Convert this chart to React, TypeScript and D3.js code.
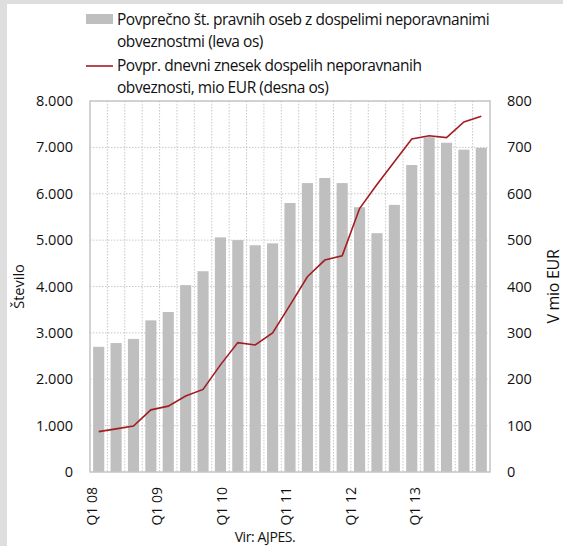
import React from "react";
import * as d3 from "d3";

const quarters = [
  "Q1 08","Q2 08","Q3 08","Q4 08",
  "Q1 09","Q2 09","Q3 09","Q4 09",
  "Q1 10","Q2 10","Q3 10","Q4 10",
  "Q1 11","Q2 11","Q3 11","Q4 11",
  "Q1 12","Q2 12","Q3 12","Q4 12",
  "Q1 13","Q2 13","Q3 13",
];
const legalEntities = [
  2700, 2780, 2870, 3270,
  3450, 4030, 4330, 5060,
  5000, 4890, 4930, 5800,
  6230, 6340, 6230, 5710,
  5150, 5760, 6620, 7220,
  7100, 6950, 6990,
];
const dailyAmount = [
  87, 93, 99, 134,
  142, 164, 178, 231,
  279, 274, 300, 360,
  421, 457, 466, 568,
  620, 669, 718, 725,
  721, 755, 767,
];
const xLabels = ["Q1 08", "Q1 09", "Q1 10", "Q1 11", "Q1 12", "Q1 13"];
const leftTicks = [0, 1000, 2000, 3000, 4000, 5000, 6000, 7000, 8000];
const rightTicks = [0, 100, 200, 300, 400, 500, 600, 700, 800];
const legend1 = ["Povprečno št. pravnih oseb z dospelimi neporavnanimi", "obveznostmi (leva os)"];
const legend2 = ["Povpr. dnevni znesek dospelih neporavnanih", "obveznosti, mio EUR (desna os)"];

const W = 563, H = 546;
const L = 90, R = 490, T = 101, B = 472;
const FONT = "'Open Sans', sans-serif";
const BAR = "#bfbfbf";
const RED = "#a31d22";

export default function App() {
  const x = d3.scaleBand<string>().domain(quarters).range([L, R]).paddingInner(0.36).paddingOuter(0.18);
  const yL = d3.scaleLinear().domain([0, 8000]).range([B, T]);
  const yR = d3.scaleLinear().domain([0, 800]).range([B, T]);
  const labelX = d3.scaleLinear().domain([0, 20]).range([92.5, 415.5]);
  const fmt = (v: number) => d3.format(",")(v).replace(/,/g, ".");
  const step = (R - L) / quarters.length;
  const boundaries = d3.range(1, quarters.length).map((i) => L + i * step);

  const line = d3
    .line<number>()
    .x((_, i) => (x(quarters[i]) as number) + x.bandwidth() / 2)
    .y((d) => yR(d));

  return (
    <svg width={W} height={H} style={{ position: "absolute", left: 0, top: 0, background: "#fff" }} fontFamily={FONT}>
      <rect x={0} y={0} width={W} height={H} fill="#fff" />
      <rect x={0} y={0} width={W} height={4} fill="#dedede" />
      <rect x={0} y={0} width={7} height={H} fill="#dedede" />

      {/* gridlines */}
      {leftTicks.slice(1, -1).map((t) => (
        <line key={"h" + t} x1={L} x2={R} y1={yL(t)} y2={yL(t)} stroke="#c8c8c8" strokeDasharray="1.5,1.5" strokeWidth={1} />
      ))}
      {boundaries.map((b, i) => (
        <line key={"v" + i} x1={b} x2={b} y1={T} y2={B} stroke="#c8c8c8" strokeDasharray="1.5,1.5" strokeWidth={1} />
      ))}

      {/* bars */}
      {legalEntities.map((v, i) => (
        <rect key={"b" + i} x={x(quarters[i])} y={yL(v)} width={x.bandwidth()} height={B - yL(v)} fill={BAR} />
      ))}

      {/* plot frame */}
      <rect x={L} y={T} width={R - L} height={B - T} fill="none" stroke="#c4c4c4" strokeWidth={1.5} />

      {/* line */}
      <path d={line(dailyAmount) || ""} fill="none" stroke={RED} strokeWidth={1.6} />

      {/* left ticks */}
      {leftTicks.map((t) => (
        <text key={"l" + t} x={73} y={yL(t)} dy="0.35em" textAnchor="end" fontSize={14.5} fill="#111">
          {fmt(t)}
        </text>
      ))}
      {/* right ticks */}
      {rightTicks.map((t) => (
        <text key={"r" + t} x={507} y={yR(t)} dy="0.35em" textAnchor="start" fontSize={14.5} fill="#111">
          {t}
        </text>
      ))}

      {/* x labels */}
      {xLabels.map((lab) => {
        const idx = quarters.indexOf(lab);
        const lx = labelX(idx);
        return (
          <text key={lab} transform={`translate(${lx},487) rotate(-90)`} dy="0.35em" textAnchor="end" fontSize={14} fill="#111">
            {lab}
          </text>
        );
      })}

      <text x={265} y={542} textAnchor="middle" fontSize={14} fill="#111" letterSpacing={-0.4}>
        Vir: AJPES.
      </text>

      {/* axis titles */}
      <text transform={`translate(19,${(T + B) / 2}) rotate(-90)`} dy="0.35em" textAnchor="middle" fontSize={14.5} fill="#111">
        Število
      </text>
      <text transform={`translate(553,${(T + B) / 2}) rotate(-90)`} dy="0.35em" textAnchor="middle" fontSize={16} fill="#111" letterSpacing={-0.3}>
        V mio EUR
      </text>

      {/* legend */}
      <rect x={86} y={14} width={27} height={10} fill={BAR} />
      <line x1={86} x2={113} y1={66} y2={66} stroke={RED} strokeWidth={1.6} />
      {legend1.map((s, i) => (
        <text key={"g1" + i} x={117} y={25 + i * 22} fontSize={15.5} fill="#111" letterSpacing={-0.45}>
          {s}
        </text>
      ))}
      {legend2.map((s, i) => (
        <text key={"g2" + i} x={117} y={71 + i * 22} fontSize={15.5} fill="#111" letterSpacing={-0.45}>
          {s}
        </text>
      ))}
    </svg>
  );
}
